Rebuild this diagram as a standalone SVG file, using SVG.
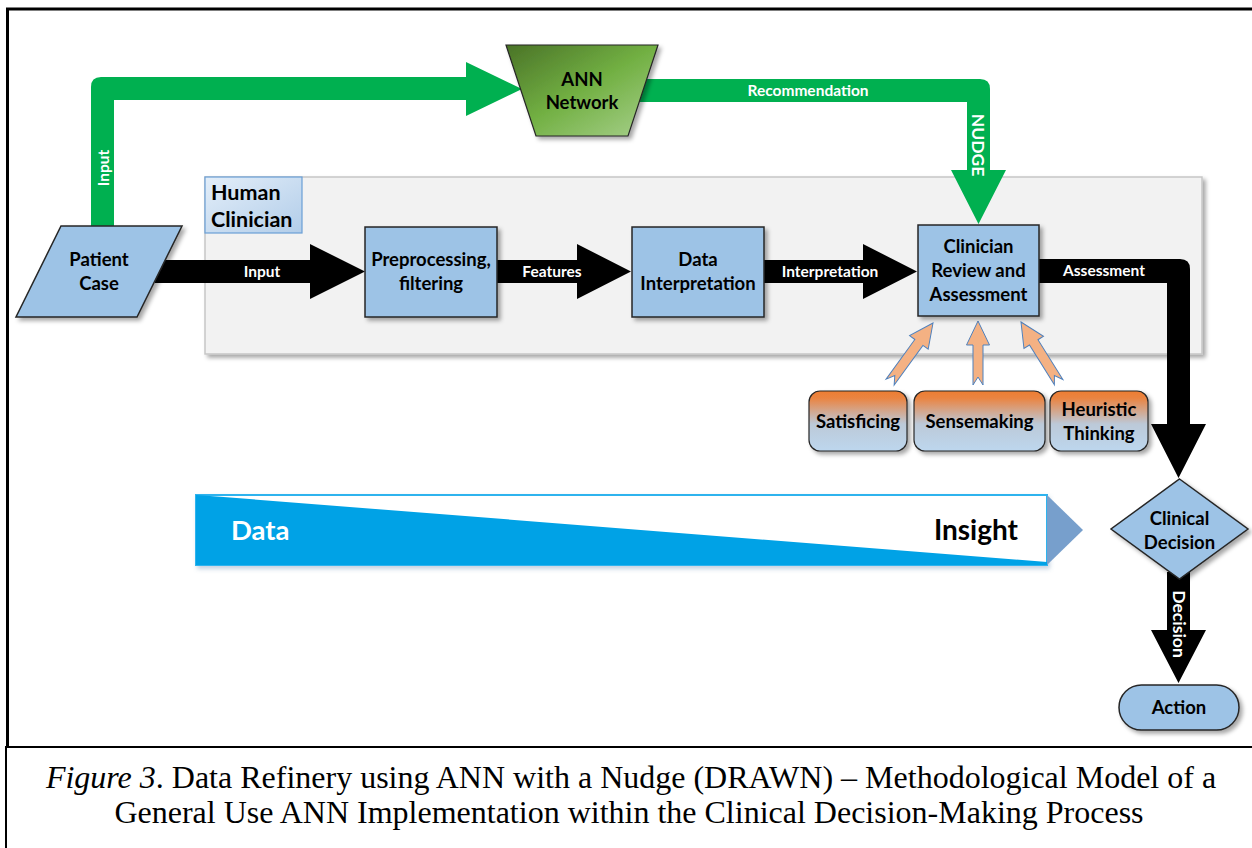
<svg xmlns="http://www.w3.org/2000/svg" width="1252" height="848" viewBox="0 0 1252 848">
<style>
.lbl{font-family:Lato,"Open Sans",sans-serif;font-weight:bold;fill:#000;text-anchor:middle}
.box{font-size:18.5px}
.wl{font-family:Lato,"Open Sans",sans-serif;font-weight:bold;fill:#fff;text-anchor:middle;font-size:15.5px}
.node{fill:#9dc3e6;stroke:#262626;stroke-width:1.5}
.cap{font-family:"Liberation Serif","Times New Roman",serif;font-size:32px;fill:#000;text-anchor:middle}
</style>
<defs>
<filter id="sh" x="-10%" y="-10%" width="130%" height="140%">
<feDropShadow dx="3" dy="3" stdDeviation="2" flood-color="#000" flood-opacity="0.35"/>
</filter>
<filter id="shs" x="-10%" y="-10%" width="130%" height="140%">
<feDropShadow dx="2" dy="3" stdDeviation="2" flood-color="#5b7fa8" flood-opacity="0.35"/>
</filter>
<linearGradient id="gAnn" x1="0" y1="0" x2="1" y2="1">
<stop offset="0" stop-color="#4a7327"/>
<stop offset="0.5" stop-color="#72b043"/>
<stop offset="1" stop-color="#a9d18e"/>
</linearGradient>
<linearGradient id="gOr" x1="0" y1="0" x2="0" y2="1">
<stop offset="0" stop-color="#ed7d31"/>
<stop offset="0.12" stop-color="#ea8442"/>
<stop offset="0.55" stop-color="#bcc9d8"/>
<stop offset="1" stop-color="#bdd7ee"/>
</linearGradient>
<linearGradient id="gHc" x1="0" y1="0" x2="1" y2="1">
<stop offset="0" stop-color="#e3eef9"/>
<stop offset="1" stop-color="#b2cde9"/>
</linearGradient>
</defs>
<rect width="1252" height="848" fill="#fff"/>
<!-- frame -->
<g id="frame" fill="none" stroke="#000">
<path d="M1252,9 H7.5 V747" stroke-width="3"/>
<path d="M6,848 V747 H1252" stroke-width="2"/>
</g>
<!-- Human Clinician container -->
<g id="human-clinician">
<rect x="205" y="177" width="997" height="177" fill="#f2f2f2" stroke="#c6c6c6" stroke-width="1.5" filter="url(#sh)"/>
<rect x="205" y="177" width="97" height="56" fill="url(#gHc)" stroke="#6a9fd6" stroke-width="1.2"/>
<text class="lbl" x="211" y="200" font-size="21.5" style="text-anchor:start">Human</text>
<text class="lbl" x="211" y="227" font-size="21.5" style="text-anchor:start">Clinician</text>
</g>
<!-- data/insight bar -->
<g id="data-insight">
<rect x="196" y="495" width="851" height="70" fill="#fff" stroke="#2fb3ee" stroke-width="2" filter="url(#shs)"/>
<polygon points="196,495 217,496.5 1047,562 1047,565 196,565" fill="#00a2e6"/>
<polygon points="1047,495 1083,530 1047,565" fill="#779fcc"/>
<text class="lbl" x="231" y="540" font-size="27.5" style="text-anchor:start;fill:#fff">Data</text>
<text class="lbl" x="1018" y="540" font-size="28" style="text-anchor:end">Insight</text>
</g>
<!-- connectors -->
<g id="connectors">
<path d="M91,230 V87 Q91,77 101,77 H466 V62 L522,89 L466,116 V100 H114 V230 Z" fill="#00b050"/>
<path d="M640,79 H980 Q990,79 990,89 V170 H1006 L978.5,224 L951,170 H967 V102 H640 Z" fill="#00b050"/>
<path d="M155,260 H310 V244 L365,271.5 L310,299 V283 H155 Z" fill="#000"/>
<path d="M497,260 H577 V244 L631,271.5 L577,299 V283 H497 Z" fill="#000"/>
<path d="M764,260 H863 V244 L917,271.5 L863,299 V283 H764 Z" fill="#000"/>
<path d="M1039,259 H1180 Q1190,259 1190,269 V424 H1206 L1178.5,478 L1151,424 H1167 V283 H1039 Z" fill="#000"/>
<path d="M1167,572 V630 H1151 L1178.5,683 L1206,630 H1190 V572 Z" fill="#000"/>
<g fill="#f4b183" stroke="#4f81bd" stroke-width="1">
<path transform="translate(933,323) rotate(36)" d="M0,0 L11.5,24 L5,24 L5,73 L0,65 L-5,73 L-5,24 L-11.5,24 Z"/>
<path transform="translate(978,321)" d="M0,0 L11.5,24 L5,24 L5,64 L0,56 L-5,64 L-5,24 L-11.5,24 Z"/>
<path transform="translate(1021,322) rotate(-32)" d="M0,0 L11.5,24 L5,24 L5,71 L0,63 L-5,71 L-5,24 L-11.5,24 Z"/>
</g>
<text class="wl" transform="translate(108.5,168) rotate(-90)">Input</text>
<text class="wl" x="808" y="95.5">Recommendation</text>
<text class="wl" transform="translate(972,145) rotate(90)" style="font-size:17.5px">NUDGE</text>
<text class="wl" x="262" y="277">Input</text>
<text class="wl" x="552" y="277">Features</text>
<text class="wl" x="830" y="277">Interpretation</text>
<text class="wl" x="1104" y="276">Assessment</text>
<text class="wl" transform="translate(1173,624) rotate(90)" style="font-size:17.5px">Decision</text>
</g>
<!-- nodes -->
<g id="ann">
<polygon points="506,45 658,45 628,136 536,136" fill="url(#gAnn)" stroke="#262626" stroke-width="1.2" filter="url(#sh)"/>
<text class="lbl box" x="582" y="86">ANN</text>
<text class="lbl box" x="582" y="109">Network</text>
</g>
<g id="patient-case">
<polygon points="61,226 182,226 137,317 16,317" class="node" filter="url(#sh)"/>
<text class="lbl box" x="99" y="266">Patient</text>
<text class="lbl box" x="99" y="290">Case</text>
</g>
<g id="preprocessing">
<rect x="365" y="227" width="132" height="90" class="node" filter="url(#sh)"/>
<text class="lbl box" x="431" y="266">Preprocessing,</text>
<text class="lbl box" x="431" y="290">filtering</text>
</g>
<g id="data-interpretation">
<rect x="632" y="227" width="132" height="90" class="node" filter="url(#sh)"/>
<text class="lbl box" x="698" y="266">Data</text>
<text class="lbl box" x="698" y="290">Interpretation</text>
</g>
<g id="clinician-review">
<rect x="918" y="225" width="121" height="91" class="node" filter="url(#sh)"/>
<text class="lbl box" x="978.5" y="253">Clinician</text>
<text class="lbl box" x="978.5" y="277">Review and</text>
<text class="lbl box" x="978.5" y="301">Assessment</text>
</g>
<g id="satisficing">
<rect x="809" y="391" width="98" height="60" rx="11" fill="url(#gOr)" stroke="#262626" stroke-width="1.2" filter="url(#sh)"/>
<text class="lbl box" x="858" y="428">Satisficing</text>
</g>
<g id="sensemaking">
<rect x="914" y="391" width="131" height="60" rx="11" fill="url(#gOr)" stroke="#262626" stroke-width="1.2" filter="url(#sh)"/>
<text class="lbl box" x="979.5" y="428">Sensemaking</text>
</g>
<g id="heuristic">
<rect x="1050" y="391" width="98" height="60" rx="11" fill="url(#gOr)" stroke="#262626" stroke-width="1.2" filter="url(#sh)"/>
<text class="lbl box" x="1099" y="416">Heuristic</text>
<text class="lbl box" x="1099" y="440">Thinking</text>
</g>
<g id="clinical-decision">
<polygon points="1179.5,479 1248,529 1179.5,579 1111,529" class="node" filter="url(#sh)"/>
<text class="lbl box" x="1179.5" y="525">Clinical</text>
<text class="lbl box" x="1179.5" y="549">Decision</text>
</g>
<g id="action">
<rect x="1119" y="685" width="120" height="45" rx="22.5" class="node" filter="url(#sh)"/>
<text class="lbl box" x="1179" y="714">Action</text>
</g>
<!-- caption -->
<g id="caption">
<text class="cap" x="631" y="788"><tspan font-style="italic">Figure 3</tspan>. Data Refinery using ANN with a Nudge (DRAWN) – Methodological Model of a</text>
<text class="cap" x="629" y="823">General Use ANN Implementation within the Clinical Decision-Making Process</text>
</g>
</svg>
